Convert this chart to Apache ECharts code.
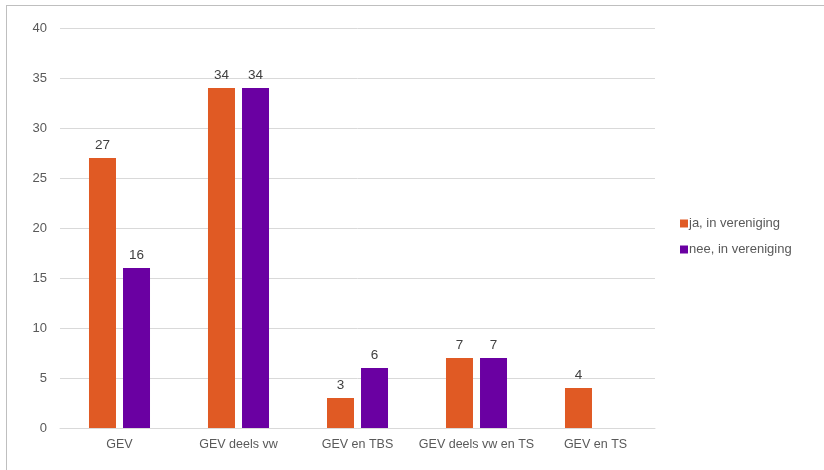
<!DOCTYPE html>
<html><head><meta charset="utf-8">
<script src="https://cdn.jsdelivr.net/npm/echarts@6/dist/echarts.min.js"></script>
<style>
html,body{margin:0;padding:0;background:#fff;}
#frame{position:absolute;left:6px;top:5px;width:900px;height:600px;border-left:1px solid #bfbfbf;border-top:1px solid #bfbfbf;}
#c{position:absolute;left:0;top:0;width:824px;height:470px;}
</style></head>
<body>
<div id="frame"></div>
<div id="c"></div>
<script>
const categories = ['GEV', 'GEV deels vw', 'GEV en TBS', 'GEV deels vw en TS', 'GEV en TS'];
const seriesNames = ['ja, in vereniging', 'nee, in vereniging'];
const jaValues = [27, 34, 3, 7, 4];
const neeValues = [16, 34, 6, 7, null];
const colors = ['#E05A24', '#6A00A2'];

const chart = echarts.init(document.getElementById('c'), null, {renderer: 'canvas'});
const font = '"Liberation Sans", Arial, sans-serif';
const labelCfg = {show: true, position: 'top', color: '#404040', fontSize: 13.5, fontFamily: font, distance: 6};
chart.setOption({
  animation: false,
  grid: {left: 60, right: 169, top: 28, bottom: 42},
  legend: {
    orient: 'vertical', left: 675, top: 212, itemWidth: 8, itemHeight: 8, itemGap: 13,
    icon: 'rect',
    textStyle: {color: '#595959', fontSize: 13, fontFamily: font, padding: [0, 0, 0, -4]},
    data: seriesNames
  },
  xAxis: {
    type: 'category', data: categories,
    axisLine: {lineStyle: {color: '#d9d9d9'}},
    axisTick: {show: false},
    axisLabel: {color: '#595959', fontSize: 12.5, fontFamily: font, margin: 10, interval: 0}
  },
  yAxis: {
    type: 'value', min: 0, max: 40, interval: 5,
    axisLine: {show: false}, axisTick: {show: false},
    splitLine: {lineStyle: {color: '#d9d9d9'}},
    axisLabel: {color: '#595959', fontSize: 13, fontFamily: font, margin: 13}
  },
  series: [
    {name: seriesNames[0], type: 'bar', data: jaValues, barWidth: 27, barGap: '26%',
     itemStyle: {color: colors[0]}, label: labelCfg},
    {name: seriesNames[1], type: 'bar', data: neeValues, barWidth: 27, barGap: '26%',
     itemStyle: {color: colors[1]}, label: labelCfg}
  ]
});
</script>
</body></html>
